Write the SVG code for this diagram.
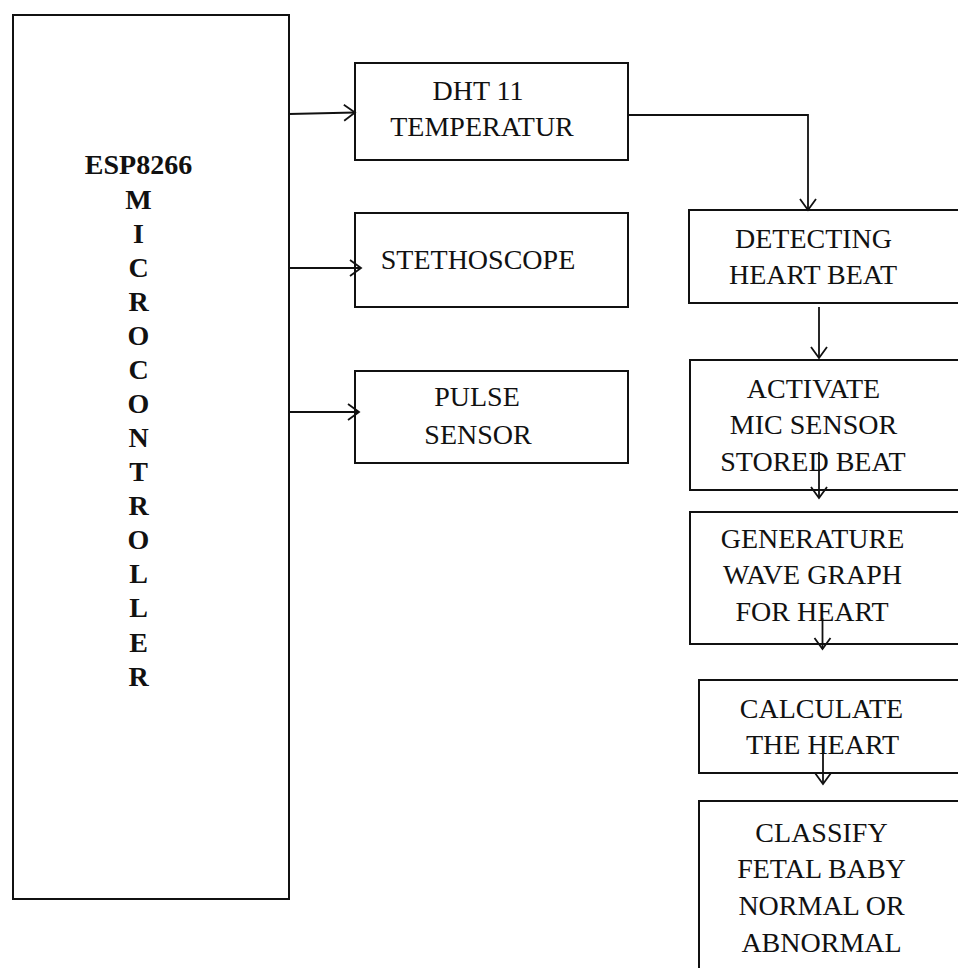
<svg xmlns="http://www.w3.org/2000/svg" width="958" height="968" viewBox="0 0 958 968">
<style>
.box{fill:#fff;stroke:#111;stroke-width:2}
.t{font-family:"Liberation Serif","Times New Roman",serif;font-size:28px;fill:#111;text-anchor:middle}
.b{font-weight:bold}
.c{fill:none;stroke:#111;stroke-width:1.8}
</style>
<defs>
<marker id="ah" markerUnits="userSpaceOnUse" markerWidth="16" markerHeight="20" viewBox="-13 -10 15 20" refX="0" refY="0" orient="auto">
<path d="M-11,-8 L0,0 L-11,8" fill="none" stroke="#111" stroke-width="1.8"/>
</marker>
</defs>
<rect width="958" height="968" fill="#fff"/>
<g id="esp8266">
<rect class="box" x="13" y="15" width="276" height="884"/>
<text class="t b" x="138.5" y="174">ESP8266</text>
<text class="t b" x="138.5" y="209">M</text>
<text class="t b" x="138.5" y="243">I</text>
<text class="t b" x="138.5" y="277">C</text>
<text class="t b" x="138.5" y="311">R</text>
<text class="t b" x="138.5" y="345">O</text>
<text class="t b" x="138.5" y="379">C</text>
<text class="t b" x="138.5" y="413">O</text>
<text class="t b" x="138.5" y="447">N</text>
<text class="t b" x="138.5" y="481">T</text>
<text class="t b" x="138.5" y="515">R</text>
<text class="t b" x="138.5" y="549">O</text>
<text class="t b" x="138.5" y="583">L</text>
<text class="t b" x="138.5" y="617">L</text>
<text class="t b" x="138.5" y="652">E</text>
<text class="t b" x="138.5" y="686">R</text>
</g>
<g id="dht11">
<rect class="box" x="355" y="63" width="273" height="97"/>
<text class="t" x="478" y="100">DHT 11</text>
<text class="t" x="482" y="136">TEMPERATUR</text>
</g>
<g id="stethoscope">
<rect class="box" x="355" y="213" width="273" height="94"/>
<text class="t" x="478" y="269">STETHOSCOPE</text>
</g>
<g id="pulse">
<rect class="box" x="355" y="371" width="273" height="92"/>
<text class="t" x="477" y="406">PULSE</text>
<text class="t" x="478" y="444">SENSOR</text>
</g>
<g id="detecting">
<rect class="box" x="689" y="210" width="290" height="93"/>
<text class="t" x="813.5" y="248">DETECTING</text>
<text class="t" x="813" y="284">HEART BEAT</text>
</g>
<g id="activate">
<rect class="box" x="690" y="360" width="290" height="130"/>
<text class="t" x="813.5" y="398">ACTIVATE</text>
<text class="t" x="813.5" y="434">MIC SENSOR</text>
<text class="t" x="813" y="471">STORED BEAT</text>
</g>
<g id="generature">
<rect class="box" x="690" y="512" width="290" height="132"/>
<text class="t" x="812.5" y="548">GENERATURE</text>
<text class="t" x="812.5" y="584">WAVE GRAPH</text>
<text class="t" x="812" y="621">FOR HEART</text>
</g>
<g id="calculate">
<rect class="box" x="699" y="680" width="290" height="93"/>
<text class="t" x="821.5" y="718">CALCULATE</text>
<text class="t" x="822.5" y="754">THE HEART</text>
</g>
<g id="classify">
<rect class="box" x="699" y="801" width="290" height="200"/>
<text class="t" x="821.5" y="842">CLASSIFY</text>
<text class="t" x="821.5" y="878">FETAL BABY</text>
<text class="t" x="821.5" y="915">NORMAL OR</text>
<text class="t" x="821.5" y="952">ABNORMAL</text>
</g>
<g id="connectors">
<path class="c" d="M289,114 L355,112.5" marker-end="url(#ah)"/>
<path class="c" d="M289,268 L361,268" marker-end="url(#ah)"/>
<path class="c" d="M289,412 L359,412" marker-end="url(#ah)"/>
<path class="c" d="M628,115 L808,115 L808,210" marker-end="url(#ah)"/>
<path class="c" d="M819,307 L819,358" marker-end="url(#ah)"/>
<path class="c" d="M819,452 L819,498" marker-end="url(#ah)"/>
<path class="c" d="M822.5,618 L822.5,649" marker-end="url(#ah)"/>
<path class="c" d="M823,745 L823,784" marker-end="url(#ah)"/>
</g>
</svg>
